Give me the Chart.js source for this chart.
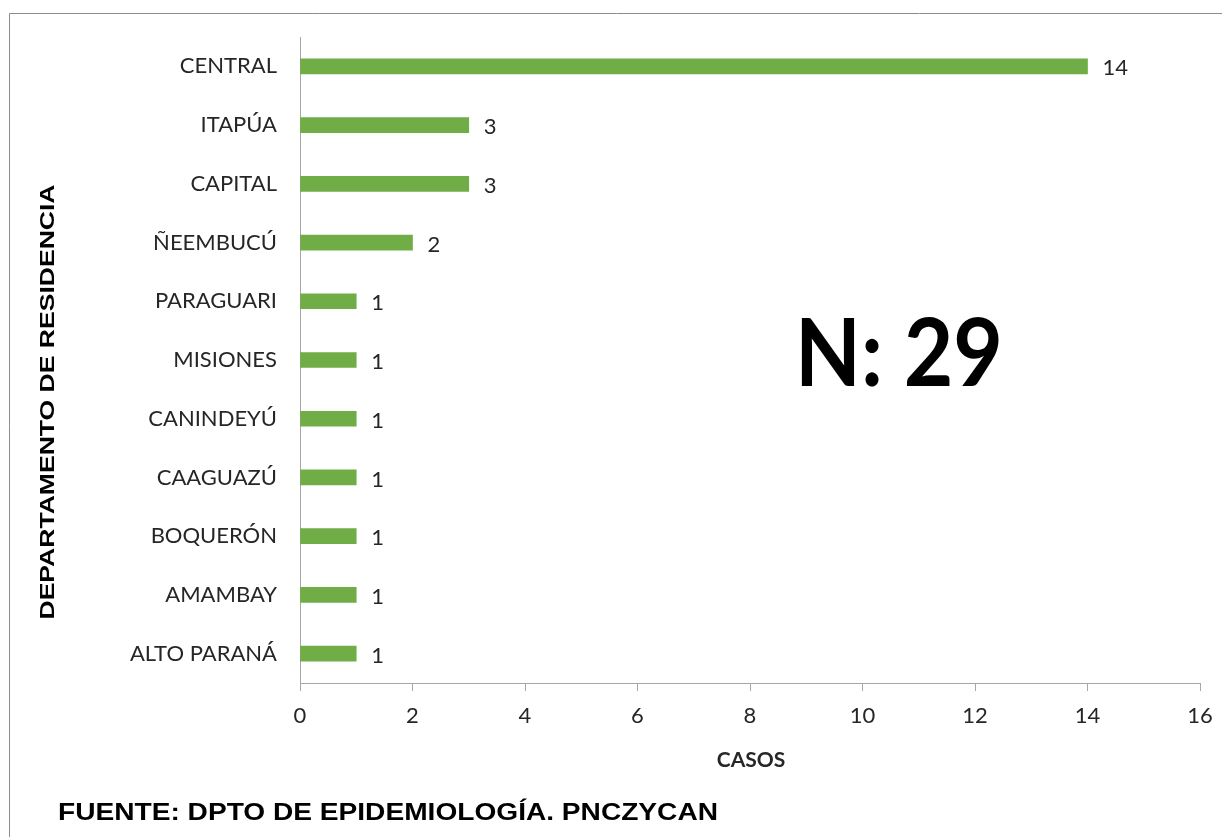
<!DOCTYPE html>
<html>
<head>
<meta charset="utf-8">
<script src="https://cdn.jsdelivr.net/npm/chart.js@4.4.1/dist/chart.umd.min.js"></script>
<style>
html,body{margin:0;padding:0;background:#fff;}
canvas{display:block;}
</style>
</head>
<body>
<canvas id="c" width="1222" height="837"></canvas>
<script>
const categories = ["CENTRAL","ITAPÚA","CAPITAL","ÑEEMBUCÚ","PARAGUARI","MISIONES","CANINDEYÚ","CAAGUAZÚ","BOQUERÓN","AMAMBAY","ALTO PARANÁ"];
const casos = [14,3,3,2,1,1,1,1,1,1,1];
const xTicks = [0,2,4,6,8,10,12,14,16];
const yTitle = "DEPARTAMENTO DE RESIDENCIA";
const xTitle = "CASOS";
const totalLabel = "N: 29";
const sourceLabel = "FUENTE: DPTO DE EPIDEMIOLOGÍA. PNCZYCAN";

const labelFont = "Lato, 'Open Sans', sans-serif";
const textColor = "#262626";

const extras = {
  id: 'extras',
  beforeDraw(chart){
    const ctx = chart.ctx;
    ctx.save();
    ctx.strokeStyle = '#8c8c8c';
    ctx.lineWidth = 1;
    ctx.beginPath();
    ctx.moveTo(1230, 13.5);
    ctx.lineTo(9.5, 13.5);
    ctx.lineTo(9.5, 845);
    ctx.stroke();
    ctx.restore();
  },
  afterDraw(chart){
    const ctx = chart.ctx;
    ctx.save();
    // value labels
    ctx.fillStyle = textColor;
    ctx.font = "22px " + labelFont;
    ctx.textAlign = 'left';
    ctx.textBaseline = 'middle';
    const meta = chart.getDatasetMeta(0);
    meta.data.forEach((bar, i) => {
      ctx.fillText(String(casos[i]), bar.x + 15, bar.y + 2);
    });
    // N: 29
    ctx.save();
    ctx.font = "bold 93px " + labelFont;
    ctx.textAlign = 'center';
    ctx.textBaseline = 'alphabetic';
    ctx.fillStyle = '#000';
    let w = ctx.measureText(totalLabel).width;
    ctx.translate(899, 386);
    ctx.scale(208 / w, 1);
    ctx.fillText(totalLabel, 0, 0);
    ctx.restore();
    // x title
    ctx.font = "bold 21px " + labelFont;
    ctx.fillStyle = textColor;
    ctx.textAlign = 'center';
    ctx.textBaseline = 'alphabetic';
    ctx.fillText(xTitle, 751, 767);
    // y title
    ctx.save();
    ctx.translate(48, 402);
    ctx.rotate(-Math.PI/2);
    ctx.font = "bold 20px 'Liberation Sans', Arial, sans-serif";
    ctx.fillStyle = '#000';
    ctx.textAlign = 'center';
    ctx.textBaseline = 'middle';
    w = ctx.measureText(yTitle).width;
    ctx.scale(435 / w, 1);
    ctx.fillText(yTitle, 0, 0);
    ctx.restore();
    // source
    ctx.save();
    ctx.font = "bold 24px 'Liberation Sans Narrow', 'Liberation Sans', Arial, sans-serif";
    ctx.fillStyle = '#000';
    ctx.textAlign = 'left';
    ctx.textBaseline = 'alphabetic';
    w = ctx.measureText(sourceLabel).width;
    ctx.translate(58, 820);
    ctx.scale(660 / w, 1);
    ctx.fillText(sourceLabel, 0, 0);
    ctx.restore();
    ctx.restore();
  }
};

new Chart(document.getElementById('c'), {
  type: 'bar',
  data: {
    labels: categories,
    datasets: [{
      data: casos,
      backgroundColor: '#70AD47',
      borderWidth: 0,
      barThickness: 15
    }]
  },
  options: {
    indexAxis: 'y',
    responsive: false,
    animation: false,
    devicePixelRatio: 1,
    layout: { padding: { top: 37, right: 22, left: 0, bottom: 0 } },
    plugins: { legend: { display: false }, tooltip: { enabled: false } },
    scales: {
      x: {
        min: 0, max: 16,
        afterFit(s){ s.height = 154; s.paddingRight = 0; s.paddingLeft = 0; },
        afterBuildTicks(s){ s.ticks = xTicks.map(v => ({value: v})); },
        grid: { drawOnChartArea: false, drawTicks: true, tickLength: 8, color: '#a6a6a6' },
        border: { color: '#a6a6a6', width: 1 },
        ticks: { font: { size: 22, family: labelFont }, color: textColor, padding: 12, maxRotation: 0 }
      },
      y: {
        afterFit(s){ s.width = 300; },
        grid: { display: false, drawTicks: false, tickLength: 0 },
        border: { display: true, color: '#a6a6a6', width: 1 },
        ticks: { font: { size: 22, family: labelFont }, color: textColor, padding: 23 }
      }
    }
  },
  plugins: [extras]
});
</script>
</body>
</html>
